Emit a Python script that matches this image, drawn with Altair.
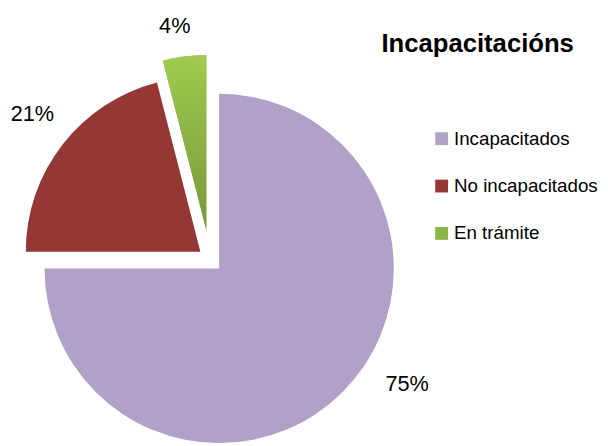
import math
import altair as alt
import pandas as pd

# ---- data ----
categories = ["Incapacitados", "No incapacitados", "En trámite"]
values = [75, 21, 4]
title_text = ["Incapacitacións"]

# ---- styles ----
colors = ["#B1A0C7", "#953735", "#8DB44A"]
green_gradient = alt.LinearGradient(
    gradient="linear",
    stops=[alt.GradientStop(offset=0, color="#9FCB4E"), alt.GradientStop(offset=1, color="#78983A")],
    x1=0, x2=0, y1=0, y2=1,
)
explode = {  # pixel offset of each exploded slice
    "Incapacitados": (0, 0),
    "No incapacitados": (-19, -17),
    "En trámite": (-13, -39),
}
# label placement: (angle shift from slice middle in degrees, distance from slice centre)
label_style = {
    "Incapacitados": (-13.3, 224),
    "No incapacitados": (1.5, 220),
    "En trámite": (-1.6, 209),
}
FONT = "Liberation Sans, Arial, sans-serif"
CX, CY, R = 214, 261, 177

df = pd.DataFrame({
    "cat": categories,
    "value": values,
    "idx": list(range(len(categories))),
    "ex": [explode[c][0] for c in categories],
    "ey": [explode[c][1] for c in categories],
    "lshift": [label_style[c][0] for c in categories],
    "lr": [label_style[c][1] for c in categories],
})

base = (
    alt.Chart(df)
    .transform_joinaggregate(total="sum(value)")
    .transform_window(cum="sum(value)", sort=[alt.SortField("idx")], frame=[None, 0])
    .transform_calculate(
        start="(datum.cum - datum.value) / datum.total",
        end="datum.cum / datum.total",
    )
    .transform_calculate(
        mid="(datum.start + datum.end) * PI",
        cx=f"{CX} + datum.ex",
        cy=f"{CY} + datum.ey",
        label="round(datum.value / datum.total * 100) + '%'",
    )
    .transform_calculate(
        la="datum.mid + datum.lshift * PI / 180",
    )
    .transform_calculate(
        lx="datum.cx + datum.lr * sin(datum.la)",
        ly="datum.cy - datum.lr * cos(datum.la)",
    )
)

theta_enc = alt.Theta("start:Q", scale=alt.Scale(domain=[0, 1], range=[0, 2 * math.pi]))
x_enc = alt.X("cx:Q", scale=None, axis=None)
y_enc = alt.Y("cy:Q", scale=None, axis=None)

pie = base.mark_arc(radius=R, stroke=None).encode(
    theta=theta_enc,
    theta2="end:Q",
    x=x_enc,
    y=y_enc,
    color=alt.Color(
        "cat:N",
        sort=categories,
        scale=alt.Scale(domain=categories, range=colors),
        legend=alt.Legend(
            orient="none",
            legendX=430,
            legendY=120,
            title=None,
            symbolType="square",
            symbolSize=169,
            symbolStrokeWidth=0,
            labelFont=FONT,
            labelFontSize=19,
            labelColor="#000000",
            labelOffset=3,
            labelLimit=0,
            rowPadding=28,
        ),
    ),
)

green = (
    base.transform_filter(alt.datum.cat == "En trámite")
    .mark_arc(radius=R, stroke=None, fill=green_gradient)
    .encode(theta=theta_enc, theta2="end:Q", x=x_enc, y=y_enc)
)

labels = base.mark_text(font=FONT, fontSize=22, color="#000000", align="center", baseline="middle").encode(
    x=alt.X("lx:Q", scale=None, axis=None),
    y=alt.Y("ly:Q", scale=None, axis=None),
    text="label:N",
)

title = alt.Chart(pd.DataFrame({"t": title_text})).mark_text(
    font=FONT, fontSize=26, fontWeight="bold", color="#000000", align="center", baseline="alphabetic"
).encode(x=alt.value(476), y=alt.value(42), text="t:N")

chart = (
    alt.layer(pie, green, labels, title)
    .properties(width=600, height=438, autosize=alt.AutoSizeParams(type="none"), padding=0)
    .configure_view(stroke=None)
)

chart.save("out.html", embed_options={"renderer": "svg", "actions": False})
